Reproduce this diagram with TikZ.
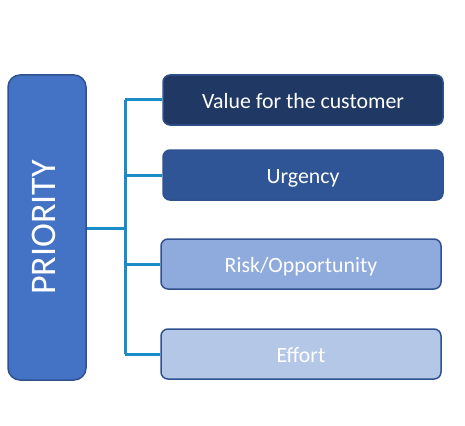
\documentclass[tikz,border=0pt]{standalone}
\usepackage{fontspec}
\setmainfont{Carlito}
\begin{document}
\begin{tikzpicture}[x=1pt,y=-1pt,
  boxbase/.style={draw=boxborder, line width=1.5pt, rounded corners=7pt, minimum width=280pt, minimum height=50pt, text=white, font=\fontsize{21.8}{25}\selectfont, inner sep=0pt, text height=20pt, text depth=4pt},
  link/.style={draw=linkblue, line width=3pt}]
\definecolor{boxborder}{HTML}{2F528F}
\definecolor{linkblue}{HTML}{1A8CC8}
\definecolor{cA}{HTML}{203864}
\definecolor{cB}{HTML}{2F5597}
\definecolor{cC}{HTML}{8FAADC}
\definecolor{cD}{HTML}{B4C7E7}
\definecolor{cP}{HTML}{4472C4}
\useasboundingbox[fill=white] (0,0) rectangle (465,425);
\node[draw=boxborder, fill=cP, line width=1.5pt, rounded corners=12pt, minimum width=78pt, minimum height=305pt, inner sep=0pt] (p) at (47,227.5) {};
\node[rotate=90, text=white, font=\fontsize{36}{40}\selectfont] (pt) at (44,227.5) {PRIORITY};
\coordinate (j) at (125,228);
\coordinate (t1) at (125,100);
\coordinate (t4) at (125,354);
\node[boxbase, fill=cA] (b1) at (303,100) {Value for the customer};
\node[boxbase, fill=cB] (b2) at (303,175) {Urgency};
\node[boxbase, fill=cC] (b3) at (301,264) {Risk/Opportunity};
\node[boxbase, fill=cD] (b4) at (301,354) {Effort};
\draw[link] (p.east |- j) -- (j);
\draw[link] (t1) -- (t4);
\draw[link] (t1) -- (b1.west);
\draw[link] (125,175) -- (b2.west);
\draw[link] (125,264) -- (b3.west);
\draw[link] (t4) -- (b4.west);
\end{tikzpicture}
\end{document}
